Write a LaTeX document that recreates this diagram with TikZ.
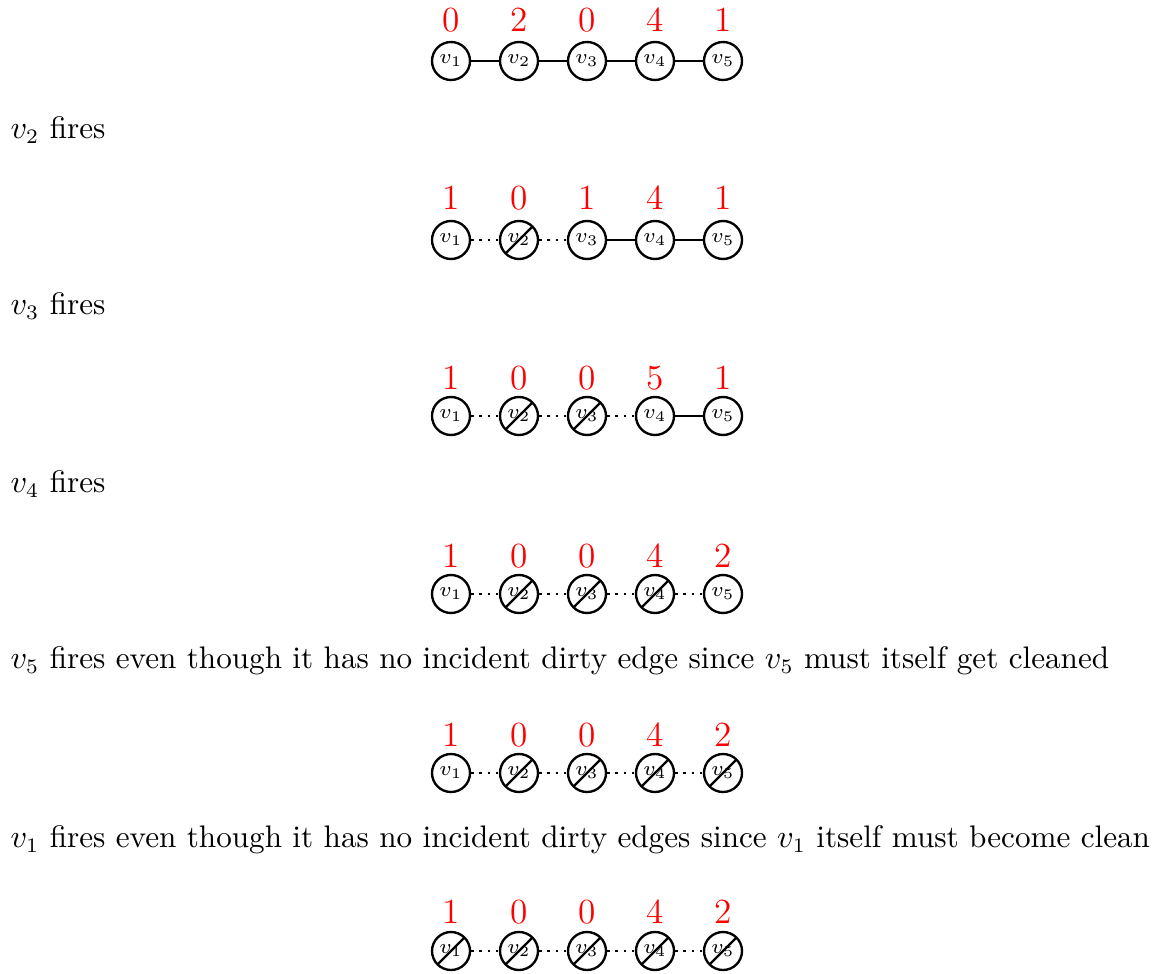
\documentclass[tikz,border=0pt]{standalone}
\usepackage{amsmath}
\usetikzlibrary{positioning}

\tikzset{
vert/.style={circle,draw,thick,minimum size=38*0.34pt,inner sep=0pt,font=\scriptsize},
clean/.style={vert,path picture={\draw[thick] (path picture bounding box.south west)--(path picture bounding box.north east);}},
chips/.style={text=red,font=\large,inner sep=0pt},
step text/.style={anchor=west,inner sep=0pt,font=\fontsize{10.6}{13}\selectfont},
dirty/.style={thick},
cleaned/.style={thick,dotted}
}

\begin{document}
\begin{tikzpicture}[x=0.34pt,y=-0.34pt]
\useasboundingbox (0,0) rectangle (1161,973);
% row 1
\foreach \i/\x/\c in {1/451/0,2/519/2,3/587/0,4/655/4,5/723/1}{
\node[vert] (a\i) at (\x,61) {$v_{\i}$};
\node[chips] (ca\i) at (\x,20) {\c};
}
\draw[dirty] (a1)--(a2)--(a3)--(a4)--(a5);
\node[step text] (t1) at (10,130) {$v_2$ fires};
% row 2
\foreach \i/\x/\c/\s in {1/451/1/vert,2/519/0/clean,3/587/1/vert,4/655/4/vert,5/723/1/vert}{
\node[\s] (b\i) at (\x,240) {$v_{\i}$};
\node[chips] (cb\i) at (\x,198) {\c};
}
\draw[cleaned] (b1)--(b2)--(b3);
\draw[dirty] (b3)--(b4)--(b5);
\node[step text] (t2) at (10,306) {$v_3$ fires};
% row 3
\foreach \i/\x/\c/\s in {1/451/1/vert,2/519/0/clean,3/587/0/clean,4/655/5/vert,5/723/1/vert}{
\node[\s] (c\i) at (\x,416) {$v_{\i}$};
\node[chips] (cc\i) at (\x,378) {\c};
}
\draw[cleaned] (c1)--(c2)--(c3)--(c4);
\draw[dirty] (c4)--(c5);
\node[step text] (t3) at (10,484) {$v_4$ fires};
% row 4
\foreach \i/\x/\c/\s in {1/451/1/vert,2/519/0/clean,3/587/0/clean,4/655/4/clean,5/723/2/vert}{
\node[\s] (d\i) at (\x,594) {$v_{\i}$};
\node[chips] (cd\i) at (\x,556) {\c};
}
\draw[cleaned] (d1)--(d2)--(d3)--(d4)--(d5);
\node[step text] (t4) at (10,661) {$v_5$ fires even though it has no incident dirty edge since $v_5$ must itself get cleaned};
% row 5
\foreach \i/\x/\c/\s in {1/451/1/vert,2/519/0/clean,3/587/0/clean,4/655/4/clean,5/723/2/clean}{
\node[\s] (e\i) at (\x,773) {$v_{\i}$};
\node[chips] (ce\i) at (\x,735) {\c};
}
\draw[cleaned] (e1)--(e2)--(e3)--(e4)--(e5);
\node[step text] (t5) at (10,840) {$v_1$ fires even though it has no incident dirty edges since $v_1$ itself must become clean};
% row 6
\foreach \i/\x/\c in {1/451/1,2/519/0,3/587/0,4/655/4,5/723/2}{
\node[clean] (f\i) at (\x,951) {$v_{\i}$};
\node[chips] (cf\i) at (\x,912) {\c};
}
\draw[cleaned] (f1)--(f2)--(f3)--(f4)--(f5);
\end{tikzpicture}
\end{document}
